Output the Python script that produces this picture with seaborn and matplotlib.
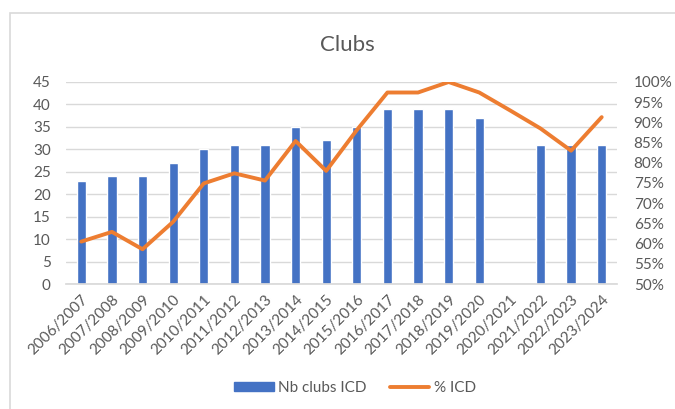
import matplotlib
matplotlib.use("Agg")
import matplotlib.pyplot as plt
import matplotlib.patches as mpatches
from matplotlib.lines import Line2D
from matplotlib.ticker import FuncFormatter, MultipleLocator
import numpy as np
import pandas as pd
import seaborn as sns

seasons = ["2006/2007", "2007/2008", "2008/2009", "2009/2010", "2010/2011", "2011/2012",
           "2012/2013", "2013/2014", "2014/2015", "2015/2016", "2016/2017", "2017/2018",
           "2018/2019", "2019/2020", "2020/2021", "2021/2022", "2022/2023", "2023/2024"]
nb_clubs = [23, 24, 24, 27, 30, 31, 31, 35, 32, 35, 39, 39, 39, 37, np.nan, 31, 31, 31]
pct_icd = [60.5, 62.9, 58.6, 65.4, 74.9, 77.4, 75.6, 85.4, 78.0, 88.1, 97.4, 97.4,
           100.0, 97.4, 93.0, 88.5, 83.0, 91.3]

df = pd.DataFrame({"season": seasons, "nb": nb_clubs, "pct": pct_icd})

sns.set_theme(style="white")
plt.rcParams["font.family"] = ["Lato", "DejaVu Sans"]

BLUE = "#4472C4"
ORANGE = "#ED7D31"
GREY = "#595959"
GRID = "#D9D9D9"
FS = 11

fig = plt.figure(figsize=(6.75, 4.09), dpi=100)
fig.patch.set_facecolor("white")
ax = fig.add_axes([66/675, 1-284/409, (617-66)/675, (284-82)/409])

sns.barplot(data=df, x="season", y="nb", order=seasons, color=BLUE, width=0.3,
            saturation=1, ax=ax, errorbar=None)
ax.set_ylim(0, 45)
ax.yaxis.set_major_locator(MultipleLocator(5))
ax.set_xlim(-0.5, len(seasons) - 0.5)
ax.grid(axis="y", color=GRID, linewidth=1)
ax.set_axisbelow(True)
for s in ["top", "right", "left"]:
    ax.spines[s].set_visible(False)
ax.spines["bottom"].set_color(GRID)
ax.set_xlabel("")
ax.set_ylabel("")
ax.tick_params(axis="both", length=0, colors=GREY, labelsize=FS)
ax.tick_params(axis="y", pad=11)
plt.setp(ax.get_xticklabels(), rotation=45, ha="right", rotation_mode="anchor")
ax.tick_params(axis="x", pad=6)

ax2 = ax.twinx()
sns.lineplot(data=df, x="season", y="pct", sort=False, color=ORANGE, linewidth=2.8,
             ax=ax2, legend=False)
ax2.set_ylim(50, 100)
ax2.yaxis.set_major_locator(MultipleLocator(5))
ax2.yaxis.set_major_formatter(FuncFormatter(lambda v, p: f"{v:.0f}%"))
ax2.set_xlim(-0.5, len(seasons) - 0.5)
for s in ["top", "right", "left", "bottom"]:
    ax2.spines[s].set_visible(False)
ax2.set_ylabel("")
ax2.set_xlabel("")
ax2.tick_params(axis="both", length=0, colors=GREY, labelsize=FS)
ax2.tick_params(axis="y", pad=12)
ax2.grid(False)

fig.text(347/675, 1-45/409, "Clubs", ha="center", va="center", fontsize=16, color=GREY)

handles = [mpatches.Patch(color=BLUE), Line2D([0], [0], color=ORANGE, linewidth=2.8)]
fig.legend(handles, ["Nb clubs ICD", "% ICD"], loc="center", bbox_to_anchor=(355/675, 1-388/409),
           ncol=2, frameon=False, fontsize=FS, labelcolor=GREY, handlelength=2.6,
           handleheight=0.5, columnspacing=1.5, handletextpad=0.3)

border = mpatches.Rectangle((10/675, -0.05), 1.0, 1-13/409+0.05, transform=fig.transFigure,
                            fill=False, edgecolor=GRID, linewidth=1.2)
fig.patches.append(border)

fig.savefig("out.png", dpi=100)
